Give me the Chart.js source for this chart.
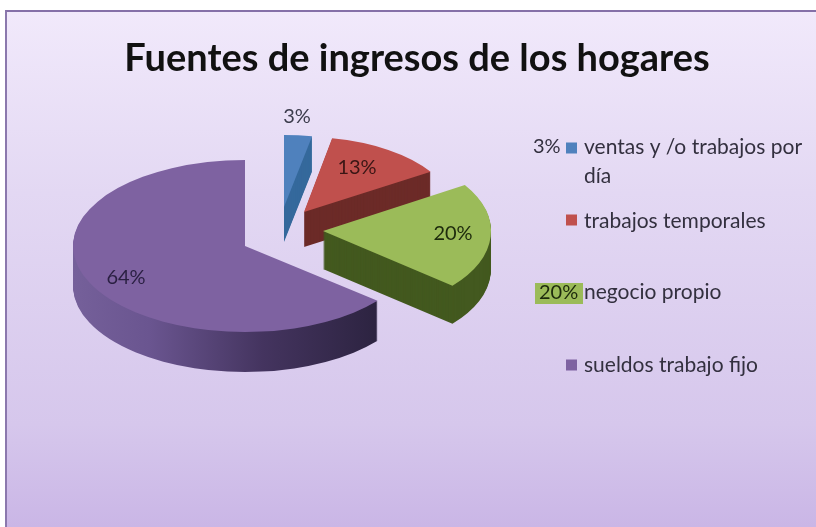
<!DOCTYPE html>
<html><head><meta charset="utf-8">
<style>
html,body{margin:0;padding:0;background:#fff;width:816px;height:527px;overflow:hidden}
#frame{position:absolute;left:5px;top:10px;right:0;bottom:0;border-left:2px solid #8b78ad;border-top:2px solid #8570a8;
background:linear-gradient(180deg,#f1e9fb 0%,#e3d8f3 35%,#d6c7ec 80%,#cab6e6 100%)}
#wrap{position:absolute;left:0;top:0;width:816px;height:527px}
#c{filter:blur(0.45px)}
</style>
<script src="https://cdn.jsdelivr.net/npm/chart.js@4"></script>
</head><body>
<div id="frame"></div>
<div id="wrap"><canvas id="c" width="816" height="527"></canvas></div>
<script>
const titleText = 'Fuentes de ingresos de los hogares';
const categories = ['ventas y /o trabajos por día','trabajos temporales','negocio propio','sueldos trabajo fijo'];
const values = [3,13,20,64];
const topColors = ['#4f81bd','#c0504d','#9bbb59','#7e62a1'];
const sideColors = ['#35699c','#6c2b28','#43591f','#4b3a68'];

// exploded-slice layout of the 3D pie: apex of each slice and its ellipse radii
const sliceApexX = [284,304,323,245];
const sliceApexY = [207,212,231,246];
const sliceRadX  = [150,150,168,172];
const sliceRadY  = [72,75,86,86];
const sliceDepth = [35,35,38,40];
const labelX = [297,357,453,126];
const labelY = [117,168,234,278];
const labelColors = ['#3c3c4c','#3a1615','#1d2a0c','#2a1f42'];
const labelFont = '20px Lato';
const legendFont = '21px Lato';
const swatchX = 566, swatchSize = 11, textX = 584;
const legendLines = [['ventas y /o trabajos por','día'],['trabajos temporales'],['negocio propio'],['sueldos trabajo fijo']];
const legendY = [[147,176],[221],[292],[365]];
const swatchY = [148,220,null,365];

const pie3d = {
  id:'pie3d',
  beforeDatasetDraw(chart,args){
    const ctx = chart.ctx, arcs = args.meta.data;
    const drawArc = (arc,i,dy,fill) => {
      const R = arc.outerRadius;
      ctx.save();
      ctx.translate(sliceApexX[i], sliceApexY[i]+dy);
      ctx.scale(sliceRadX[i]/R, sliceRadY[i]/R);
      ctx.translate(-arc.x,-arc.y);
      const o = arc.options, saved = o.backgroundColor;
      let f = fill;
      if (i===3 && dy>0){
        const g = ctx.createLinearGradient(arc.x-R,0,arc.x+R*0.78,0);
        g.addColorStop(0,'#75609a'); g.addColorStop(.25,'#6a5590');
        g.addColorStop(.62,'#44345f'); g.addColorStop(1,'#2c2340');
        f = g;
      }
      o.backgroundColor = f;
      arc.draw(ctx);
      o.backgroundColor = saved;
      ctx.restore();
    };
    arcs.forEach((arc,i)=>{
      for(let d=sliceDepth[i];d>0;d--) drawArc(arc,i,d,sideColors[i]);
      drawArc(arc,i,0,topColors[i]);
    });
    return false;
  },
  afterDraw(chart){
    const ctx = chart.ctx;
    ctx.save();
    ctx.textBaseline='middle';
    ctx.textAlign='center';
    ctx.font=labelFont;
    values.forEach((v,i)=>{ctx.fillStyle=labelColors[i];ctx.fillText(v+'%',labelX[i],labelY[i]);});
    // legend
    ctx.textAlign='left';
    ctx.font=legendFont;
    legendLines.forEach((lines,i)=>{
      if(swatchY[i]!==null){
        ctx.fillStyle=topColors[i];
        ctx.fillRect(swatchX,swatchY[i]-swatchSize/2,swatchSize,swatchSize);
      }
      ctx.fillStyle='#33303f';
      lines.forEach((t,j)=>ctx.fillText(t,textX,legendY[i][j]));
    });
    // percentages that the legend overlaps
    ctx.fillStyle=topColors[2];
    ctx.fillRect(535,283,48,21);
    ctx.font=labelFont;
    ctx.fillStyle='#33303f';
    ctx.fillText(values[0]+'%',533,147);
    ctx.fillStyle='#1d2a0c';
    ctx.fillText(values[2]+'%',539,293);
    ctx.restore();
  }
};

new Chart(document.getElementById('c'),{
  type:'pie',
  data:{labels:categories,datasets:[{data:values,backgroundColor:topColors,borderWidth:0}]},
  plugins:[pie3d],
  options:{
    responsive:false,animation:false,rotation:0,
    layout:{padding:{left:18,top:0}},
    plugins:{
      legend:{display:false},tooltip:{enabled:false},
      title:{display:true,text:titleText,color:'#111',font:{family:'Lato',size:38,weight:'bold'},padding:{top:36,bottom:10}}
    }
  }
});
</script>
</body></html>
